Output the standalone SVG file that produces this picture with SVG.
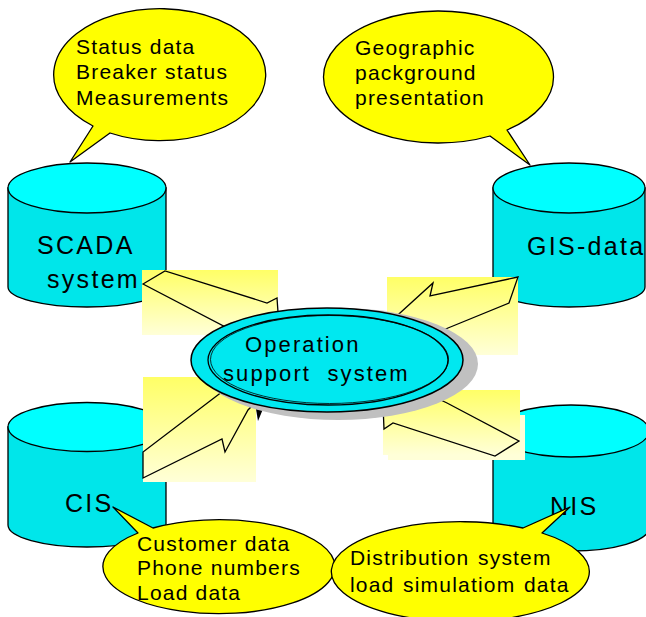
<svg xmlns="http://www.w3.org/2000/svg" width="646" height="617" viewBox="0 0 646 617">
  <style>
    .body { fill: #00E6EA; stroke: #000; stroke-width: 1.3; }
    .top { fill: #00FFFF; stroke: #000; stroke-width: 1.3; }
    .bubble { fill: #FFFF00; stroke: #000; stroke-width: 1.3; stroke-linejoin: round; }
    .txt { font-family: "Liberation Sans", Arial, sans-serif; fill: #000; }
    .big { font-size: 25px; letter-spacing: 2.3px; }
    .note { font-size: 21px; letter-spacing: 1.2px; }
    .oss { font-size: 22px; letter-spacing: 2.1px; }
    .pad { fill: url(#padGrad); }
    .arrow { fill: none; stroke: #000; stroke-width: 1.3; stroke-linejoin: miter; }
  </style>
  <defs>
    <linearGradient id="padGrad" x1="0" y1="0" x2="0" y2="1">
      <stop offset="0" stop-color="#FFFF66"/>
      <stop offset="1" stop-color="#FFFFD8"/>
    </linearGradient>
  </defs>

  <rect width="646" height="617" fill="#FFFFFF"/>

  <!-- databases -->
  <g id="scada">
    <path class="body" d="M8,188 L8,287 A79 20 0 0 0 166,287 L166,188 Z"/>
    <ellipse class="top" cx="87" cy="188" rx="79" ry="25"/>
    <text class="txt big" x="37" y="254">SCADA</text>
    <text class="txt big" x="47" y="288">system</text>
  </g>
  <g id="gis">
    <path class="body" d="M493,188 L493,287 A76 20 0 0 0 645,287 L645,188 Z"/>
    <ellipse class="top" cx="569" cy="188" rx="76" ry="25"/>
    <text class="txt big" x="527" y="255">GIS-data</text>
  </g>
  <g id="cis">
    <path class="body" d="M8,427 L8,525 A79 22 0 0 0 166,525 L166,427 Z"/>
    <ellipse class="top" cx="87" cy="427" rx="79" ry="24.5"/>
    <text class="txt big" x="65" y="512">CIS</text>
  </g>
  <g id="nis">
    <path class="body" d="M493,431 L493,528 A78 23 0 0 0 649,528 L649,431 Z"/>
    <ellipse class="top" cx="571" cy="431" rx="78" ry="26"/>
    <text class="txt big" x="550" y="515">NIS</text>
  </g>

  <!-- callouts -->
  <g id="note-scada">
    <path class="bubble" d="M93,126 L70,162 L110,133 A106 66 0 1 0 93,126 Z"/>
    <text class="txt note" x="76" y="54">Status data</text>
    <text class="txt note" x="76" y="79">Breaker status</text>
    <text class="txt note" x="76" y="105">Measurements</text>
  </g>
  <g id="note-gis">
    <path class="bubble" d="M490,136 L530,165 L507,130 A115 66 0 1 0 490,136 Z"/>
    <text class="txt note" x="355" y="55">Geographic</text>
    <text class="txt note" x="355" y="80">packground</text>
    <text class="txt note" x="355" y="105">presentation</text>
  </g>
  <g id="note-cis">
    <path class="bubble" d="M138,533 L113,507 L153,528 A116 47 0 1 1 138,533 Z"/>
    <text class="txt note" x="137" y="551">Customer data</text>
    <text class="txt note" x="137" y="575">Phone numbers</text>
    <text class="txt note" x="137" y="600">Load data</text>
  </g>
  <g id="note-nis">
    <path class="bubble" d="M523,528 L570,507 L542,533 A129 50 0 1 1 523,528 Z"/>
    <text class="txt note" x="350" y="565" word-spacing="1.5">Distribution system</text>
    <text class="txt note" x="350" y="592" word-spacing="1.5">load simulatiom data</text>
  </g>

  <!-- data flows into the operation support system -->
  <g id="connectors">
    <rect class="pad" x="142" y="270" width="136" height="65"/>
    <polygon class="arrow" points="143,284 165,271 267,303 277,298 278,312 300,330 239,334"/>

    <rect class="pad" x="387" y="277" width="131" height="78"/>
    <polygon class="arrow" points="389,323 433,283 430,296 518,277 509,303 448,328 424,338 395,340"/>

    <rect class="pad" x="143" y="377" width="113" height="105"/>
    <polygon class="arrow" points="143,452 143,478 222,439 225,452 248,410 258,400 231,385"/>
    <polygon points="256,409 263,409 258,421" fill="#000"/>

    <rect x="388" y="415" width="137" height="45" fill="#FFFFD8"/>
    <rect class="pad" x="383" y="390" width="137" height="65"/>
    <polygon class="arrow" points="383,405 384,429 393,423 495,456 519,441 447,403 420,390"/>
  </g>

  <!-- central system -->
  <g id="operation-support">
    <ellipse cx="338" cy="364" rx="140" ry="56" fill="#C0C0C0"/>
    <ellipse cx="327" cy="360" rx="136" ry="52" fill="#00E8F0" stroke="#000" stroke-width="1.5"/>
    <ellipse cx="328" cy="360" rx="120" ry="45" fill="none" stroke="#000" stroke-width="1.3"/>
    <ellipse cx="329.5" cy="359.5" rx="119" ry="44" fill="none" stroke="#000" stroke-width="0.8"/>
    <text class="txt oss" x="245" y="352">Operation</text>
    <text class="txt oss" x="223" y="381" xml:space="preserve">support  system</text>
  </g>
</svg>
